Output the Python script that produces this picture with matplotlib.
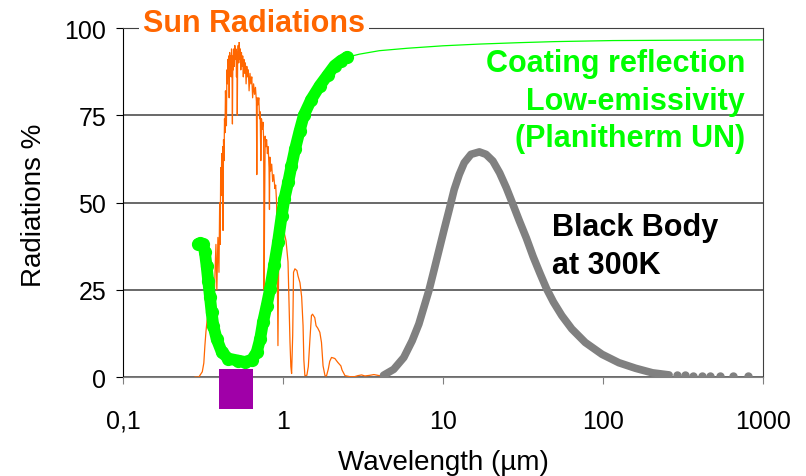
import matplotlib.pyplot as plt
from matplotlib.patches import Rectangle

plt.rcParams['font.family'] = ['Liberation Sans', 'DejaVu Sans']

# solar spectrum (wavelength in um, % of peak)
sun_wl = [0.282, 0.298, 0.303, 0.313, 0.320, 0.325, 0.330, 0.335, 0.340, 0.345,
          0.350, 0.355, 0.360, 0.365, 0.370, 0.375, 0.381, 0.386, 0.392, 0.398,
          0.402, 0.405, 0.408, 0.411, 0.414, 0.417, 0.420, 0.422, 0.425, 0.428,
          0.431, 0.434, 0.437, 0.440, 0.443, 0.446, 0.449, 0.452, 0.455, 0.458,
          0.461, 0.464, 0.467, 0.470, 0.474, 0.477, 0.480, 0.483, 0.486, 0.489,
          0.492, 0.496, 0.500, 0.504, 0.508, 0.512, 0.516, 0.518, 0.521, 0.525,
          0.529, 0.533, 0.537, 0.541, 0.545, 0.550, 0.555, 0.560, 0.565, 0.570,
          0.576, 0.582, 0.588, 0.594, 0.600, 0.607, 0.614, 0.622, 0.630, 0.638,
          0.646, 0.655, 0.664, 0.673, 0.682, 0.686, 0.690, 0.698, 0.706, 0.714,
          0.720, 0.727, 0.734, 0.742, 0.750, 0.757, 0.762, 0.768, 0.774, 0.782,
          0.790, 0.799, 0.808, 0.818, 0.823, 0.828, 0.838, 0.850, 0.862, 0.875,
          0.890, 0.900, 0.912, 0.920, 0.930, 0.939, 0.950, 0.965, 0.977, 0.999,
          1.022, 1.045, 1.075, 1.090, 1.106, 1.120, 1.132, 1.150, 1.164, 1.187,
          1.222, 1.241, 1.277, 1.308, 1.335, 1.350, 1.370, 1.410, 1.440, 1.474,
          1.506, 1.530, 1.580, 1.610, 1.650, 1.700, 1.740, 1.780, 1.830, 1.870,
          1.920, 1.960, 2.010, 2.050, 2.110, 2.200, 2.300, 2.340, 2.440, 2.620,
          2.800, 2.940, 3.100, 3.250, 3.500, 3.700, 4.000, 4.200]
sun_val = [0, 0, 0.5, 1.5, 4, 9, 13, 16, 18, 17,
           19, 21, 18, 24, 20, 28, 38, 25, 40, 30,
           50, 38, 60, 52, 64, 58, 66, 42, 68, 62,
           74, 70, 82, 78, 72, 88, 84, 91, 86, 92,
           80, 93, 88, 92, 86, 94, 90, 72.5, 92, 88,
           94, 89, 95, 91, 94, 86, 93, 75, 92, 95,
           90, 96, 91, 94, 88, 93, 89, 92, 86, 91,
           87, 90, 84, 89, 86, 88, 82, 87, 84, 86,
           80, 84, 81, 83, 79, 58, 80, 78, 80, 74,
           76, 62, 74, 71, 73, 68, 25, 50, 69, 66,
           68, 64, 66, 60, 48, 63, 59, 61, 56, 58,
           54, 55, 50, 35, 9, 30, 38, 42, 43, 43,
           41, 39, 33, 22, 10, 3, 1, 12, 30, 31,
           30.5, 29, 27, 23, 14.7, 5, 0.4, 0.5, 3, 10.9,
           17.6, 18, 17, 14.7, 14, 12.8, 9.9, 3.2, 0.4, 0.3,
           2.3, 4.5, 5.6, 5.5, 5.3, 4.2, 3.2, 2, 0.4, 0.1,
           0.1, 0.4, 0.6, 0.3, 0.5, 0.7, 0.4, 0.3]

# coating reflection, measured part (thick dots)
coat_wl = [0.296, 0.305, 0.317, 0.325, 0.333, 0.341, 0.350, 0.358, 0.367, 0.385,
           0.414, 0.454, 0.525, 0.580, 0.640, 0.685, 0.720, 0.750, 0.790, 0.830,
           0.880, 0.930, 0.980, 1.020, 1.080, 1.130, 1.190, 1.270, 1.350, 1.500,
           1.700, 1.900, 2.100, 2.300, 2.500]
coat_val = [38.1, 38.3, 38, 35.7, 31.9, 27.5, 22.8, 18.5, 14.7, 10.9,
            7.2, 5.3, 4.7, 4.3, 5.0, 7.1, 10.9, 15.7, 20.4, 25.2,
            32, 38.6, 46, 51, 56, 60.5, 65.3, 70.5, 75, 79.5,
            83.5, 86.5, 89.2, 90.6, 91.6]

# coating reflection, far infrared (thin line)
coat_far_wl = [2.5, 3, 4, 6, 10, 17, 30, 50, 115, 300, 1000]
coat_far_val = [91.6, 92.5, 93.5, 94.2, 94.9, 95.4, 95.8, 96.1, 96.4, 96.5, 96.6]

# black body at 300 K
bb_wl = [4.25, 4.92, 5.69, 6.42, 7.07, 7.60, 8.17, 8.79, 9.45, 10.16,
         10.93, 11.75, 12.63, 13.58, 14.96, 16.88, 18.58, 20.5, 22.6, 24.9,
         27.4, 30.1, 33.2, 36.6, 40.4, 44.4, 49.0, 55.3, 63.8, 77.5,
         98.7, 125.7, 160, 204, 259]
bb_val = [0.5, 2.2, 5.6, 10.4, 15.2, 20, 24.8, 30.6, 36.4, 42.2,
          47.9, 53.7, 58, 61.4, 63.8, 64.5, 63.8, 61.9, 58.5, 54.2,
          49.4, 44.6, 39.8, 34.5, 29.7, 25.3, 21.5, 17.6, 13.8, 9.9,
          6.5, 4.1, 2.5, 1.2, 0.6]
bb_tail_wl = [289, 325, 366, 414, 466, 538, 652, 809]
bb_tail_val = [0.5, 0.45, 0.4, 0.35, 0.3, 0.25, 0.2, 0.2]

visible_band = (0.40, 0.65)

x_ticks = [0.1, 1, 10, 100, 1000]
x_labels = ['0,1', '1', '10', '100', '1000']
y_ticks = [0, 25, 50, 75, 100]

orange = '#FF6600'
green = '#00FF00'
grey = '#808080'

fig = plt.figure(figsize=(8.06, 4.77), dpi=100)
ax = fig.add_axes([0.1526, 0.2075, 0.794, 0.7317])
ax.set_xscale('log')
ax.set_xlim(0.1, 1000)
ax.set_ylim(0, 100)

ax.set_yticks(y_ticks)
ax.yaxis.grid(True, color='#404040', linewidth=1.1, zorder=0)
ax.set_axisbelow(True)
ax.set_xticks(x_ticks)
ax.set_xticklabels(x_labels)
ax.minorticks_off()

ax.plot(sun_wl, sun_val, color=orange, linewidth=0.9, zorder=2)
ax.plot(coat_far_wl, coat_far_val, color=green, linewidth=0.9, zorder=3)
ax.plot(coat_wl, coat_val, color=green, linewidth=8.5, marker='o', markersize=8.5,
        solid_capstyle='round', solid_joinstyle='round', zorder=4)
ax.plot(bb_wl, bb_val, color=grey, linewidth=5.5, solid_capstyle='round',
        solid_joinstyle='round', zorder=4)
ax.plot(bb_tail_wl, bb_tail_val, color=grey, linestyle='none', marker='o',
        markersize=5, zorder=4)

ax.add_patch(Rectangle((visible_band[0], -9.2), visible_band[1] - visible_band[0], 11.5,
                       facecolor='#A000A8', edgecolor='none', clip_on=False, zorder=6))

for side in ['top', 'right']:
    ax.spines[side].set_color('#404040')
ax.spines['left'].set_color('black')
ax.spines['bottom'].set_color(grey)
ax.tick_params(axis='y', direction='out', length=5, color='black', labelsize=18, pad=7)
ax.tick_params(axis='x', direction='out', length=5, color=grey, labelsize=18, pad=18)

ax.set_xlabel('Wavelength (µm)', fontsize=20)
ax.set_ylabel('Radiations %', fontsize=20)
ax.xaxis.set_label_coords(0.5, -0.206)
ax.yaxis.set_label_coords(-0.119, 0.496)

ax.text(0.031, 0.991, 'Sun Radiations', transform=ax.transAxes, ha='left', va='baseline',
        color=orange, fontsize=22, fontweight='bold', clip_on=False, zorder=7,
        bbox=dict(facecolor='white', edgecolor='none', pad=3))

ytr = ax.get_yaxis_transform()
for line, yv in zip(['Coating reflection', 'Low-emissivity', '(Planitherm UN)'],
                    [87.8, 76.8, 66.3]):
    ax.text(0.972, yv, line, transform=ytr, ha='right', va='baseline', color=green,
            fontsize=22, fontweight='bold', zorder=7)
for line, yv in zip(['Black Body', 'at 300K'], [40.7, 29.7]):
    ax.text(0.670, yv, line, transform=ytr, ha='left', va='baseline', color='black',
            fontsize=22, fontweight='bold', zorder=7)

fig.savefig('out.png', dpi=100)
